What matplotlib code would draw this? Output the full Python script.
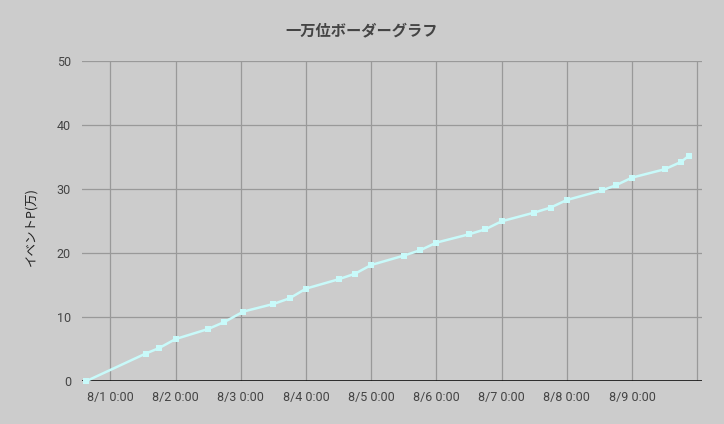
import matplotlib
matplotlib.use("Agg")
import matplotlib.pyplot as plt
from datetime import datetime, timedelta

# ---- data ----
times = [
    "2019-07-31 15:00", "2019-08-01 13:00", "2019-08-01 18:00",
    "2019-08-02 00:00", "2019-08-02 12:00", "2019-08-02 18:00",
    "2019-08-03 01:00", "2019-08-03 12:00", "2019-08-03 18:00",
    "2019-08-04 00:00", "2019-08-04 12:00", "2019-08-04 18:00",
    "2019-08-05 00:00", "2019-08-05 12:00", "2019-08-05 18:00",
    "2019-08-06 00:00", "2019-08-06 12:00", "2019-08-06 18:00",
    "2019-08-07 00:00", "2019-08-07 12:00", "2019-08-07 18:00",
    "2019-08-08 00:00", "2019-08-08 13:00", "2019-08-08 18:00",
    "2019-08-09 00:00", "2019-08-09 12:00", "2019-08-09 18:00",
    "2019-08-09 21:00",
]
points = [
    0.0, 4.33, 5.2,
    6.6, 8.17, 9.27,
    10.9, 12.08, 12.97,
    14.48, 15.94, 16.8,
    18.17, 19.64, 20.47,
    21.67, 22.97, 23.75,
    25.0, 26.36, 27.14,
    28.33, 29.84, 30.62,
    31.83, 33.13, 34.27,
    35.27,
]
tick_days = ["2019-08-01", "2019-08-02", "2019-08-03", "2019-08-04", "2019-08-05",
             "2019-08-06", "2019-08-07", "2019-08-08", "2019-08-09"]
tick_labels = ["8/1 0:00", "8/2 0:00", "8/3 0:00", "8/4 0:00", "8/5 0:00",
               "8/6 0:00", "8/7 0:00", "8/8 0:00", "8/9 0:00"]
grid_days = tick_days + ["2019-08-10"]
y_ticks = [0, 10, 20, 30, 40, 50]

title = "一万位ボーダーグラフ"
ylabel = "イベントP(万)"

# ---- figure ----
W, H = 724, 424
fig = plt.figure(figsize=(W / 100, H / 100), dpi=100)
fig.patch.set_facecolor("#cccccc")

left_px, right_px, top_px, bottom_px = 82, 702, 61.3, 381.3
ax = fig.add_axes([left_px / W, (H - bottom_px) / H,
                   (right_px - left_px) / W, (bottom_px - top_px) / H])
ax.set_facecolor("#cccccc")

x = [datetime.strptime(t, "%Y-%m-%d %H:%M") for t in times]
base = datetime(2019, 8, 1)
px_per_day = 65.22
x0 = base + timedelta(days=(left_px - 110.3) / px_per_day)
x1 = base + timedelta(days=(right_px - 110.3) / px_per_day)

# gridlines
for d in grid_days:
    ax.axvline(datetime.strptime(d, "%Y-%m-%d"), color="#999999", lw=0.9, zorder=1)
for v in y_ticks[1:]:
    ax.axhline(v, color="#999999", lw=0.9, zorder=1)
ax.axhline(0, color="#111111", lw=1.2, zorder=2)

ax.plot(x, points, color="#c8fafa", lw=1.8, marker="s", markersize=4.3,
        markeredgewidth=0, zorder=3, clip_on=False)

ax.set_xlim(x0, x1)
ax.set_ylim(0, 50)
for s in ax.spines.values():
    s.set_visible(False)

ax.set_xticks([datetime.strptime(d, "%Y-%m-%d") for d in tick_days])
ax.set_xticklabels(tick_labels)
ax.set_yticks(y_ticks)
ax.set_yticklabels([str(v) for v in y_ticks])
ax.tick_params(axis="both", length=0, colors="#444444", labelsize=9)
ax.tick_params(axis="x", pad=7)
ax.tick_params(axis="y", pad=8)
for lab in ax.get_xticklabels() + ax.get_yticklabels():
    lab.set_family(["Roboto", "DejaVu Sans"])

fig.text(362 / W, 1 - 30 / H, title, ha="center", va="center",
         fontsize=11, fontweight="bold", color="#444444",
         family=["Noto Sans CJK JP", "DejaVu Sans"])
fig.text(31.5 / W, 1 - 227 / H, ylabel, ha="center", va="center", rotation=90,
         fontsize=9, color="#222222",
         family=["Noto Sans CJK JP", "DejaVu Sans"])

fig.savefig("out.png", dpi=100, facecolor=fig.get_facecolor())
